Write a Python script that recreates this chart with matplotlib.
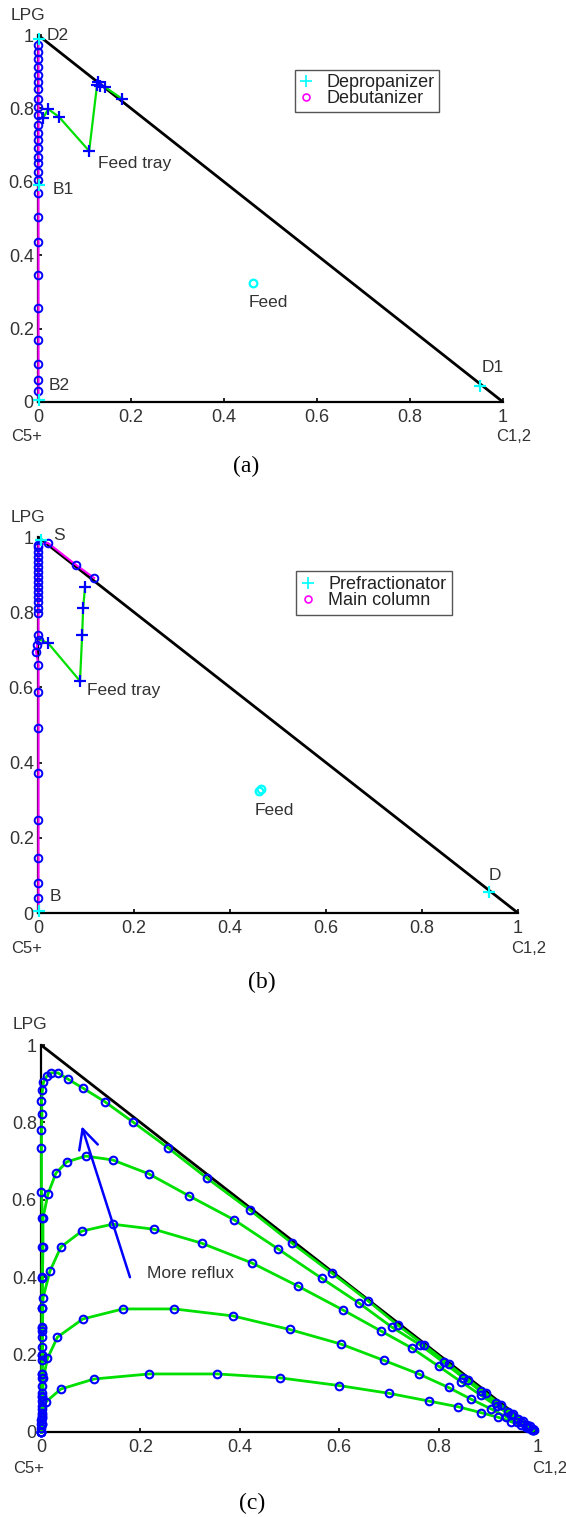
import matplotlib
matplotlib.use('Agg')
import matplotlib.pyplot as plt
from matplotlib.lines import Line2D

plt.rcParams['font.family'] = ['Liberation Sans', 'DejaVu Sans']

# ---------------- common ----------------
ticks = [0, 0.2, 0.4, 0.6, 0.8, 1]
tick_labels = ['0', '0.2', '0.4', '0.6', '0.8', '1']

# ---------------- panel (a) ----------------
a_debut_x = [0.001, 0.001, 0.001, 0.001, 0.001, 0.001, 0.001, 0.001, 0.001, 0.001,
             0.001, 0.001, 0.001, 0.001, 0.001, 0.001, 0.001, 0.001, 0.001, 0.001,
             0.001, 0.001, 0.001, 0.001, 0.001, 0.001, 0.001, 0.001, 0.002]
a_debut_y = [0.005, 0.030, 0.060, 0.104, 0.169, 0.256, 0.346, 0.436, 0.504, 0.569,
             0.605, 0.627, 0.651, 0.668, 0.692, 0.714, 0.733, 0.755, 0.782, 0.804,
             0.826, 0.853, 0.872, 0.891, 0.913, 0.935, 0.954, 0.973, 0.988]
a_deprop_x = [0.011, 0.022, 0.045, 0.110, 0.127, 0.129, 0.133, 0.144, 0.181]
a_deprop_y = [0.774, 0.798, 0.777, 0.684, 0.864, 0.872, 0.861, 0.858, 0.826]
a_prod_x = [0.951, 0.002, 0.002, 0.002]
a_prod_y = [0.044, 0.591, 0.988, 0.005]
a_prod_names = ['D1', 'B1', 'D2', 'B2']
a_prod_lab_x = [0.953, 0.032, 0.019, 0.022]
a_prod_lab_y = [0.093, 0.578, 1.000, 0.046]
a_feed = (0.462, 0.324)
a_feed_lab = (0.452, 0.272)
a_tray_lab = (0.129, 0.651)
a_legend = ['Depropanizer', 'Debutanizer']

# ---------------- panel (b) ----------------
b_main_x = [0.001, 0.001, 0.001, 0.001, 0.001, 0.001, 0.001, 0.001, 0.001, -0.004,
            -0.002, 0.002, 0.001, 0.001, 0.001, 0.001, 0.001, 0.001, 0.001, 0.001,
            0.001, 0.001, 0.001, 0.001, 0.001, 0.001, 0.001, 0.001, 0.021, 0.079, 0.117]
b_main_y = [0.005, 0.040, 0.080, 0.146, 0.247, 0.372, 0.492, 0.588, 0.660, 0.694,
            0.713, 0.726, 0.739, 0.798, 0.812, 0.826, 0.840, 0.853, 0.867, 0.880,
            0.894, 0.907, 0.920, 0.934, 0.947, 0.960, 0.973, 0.980, 0.984, 0.926, 0.891]
b_pre_x = [0.002, 0.021, 0.0875, 0.092, 0.094, 0.098]
b_pre_y = [0.728, 0.718, 0.617, 0.739, 0.811, 0.867]
b_prod_x = [0.940, 0.006, 0.002]
b_prod_y = [0.055, 0.992, 0.005]
b_prod_names = ['D', 'S', 'B']
b_prod_lab_x = [0.938, 0.031, 0.025]
b_prod_lab_y = [0.100, 1.005, 0.043]
b_feed_x = [0.460, 0.465]
b_feed_y = [0.325, 0.330]
b_feed_lab = (0.452, 0.272)
b_tray_lab = (0.102, 0.593)
b_legend = ['Prefractionator', 'Main column']

# ---------------- panel (c) ----------------
c1_x = [0.001, 0.002, 0.003, 0.010, 0.040, 0.107, 0.218, 0.354, 0.480, 0.600, 0.700,
        0.780, 0.840, 0.885, 0.920, 0.945, 0.965, 0.980, 0.990]
c1_y = [0.000, 0.020, 0.045, 0.078, 0.111, 0.137, 0.150, 0.150, 0.140, 0.120, 0.100,
        0.080, 0.065, 0.050, 0.038, 0.027, 0.018, 0.010, 0.004]
c2_x = [0.001, 0.002, 0.003, 0.005, 0.013, 0.033, 0.084, 0.165, 0.268, 0.386, 0.500,
        0.604, 0.690, 0.760, 0.820, 0.865, 0.905, 0.935, 0.958, 0.975, 0.988]
c2_y = [0.000, 0.040, 0.090, 0.140, 0.190, 0.245, 0.292, 0.318, 0.318, 0.300, 0.265,
        0.227, 0.185, 0.150, 0.115, 0.085, 0.060, 0.040, 0.025, 0.014, 0.006]
c3_x = [0.001, 0.001, 0.002, 0.002, 0.003, 0.003, 0.004, 0.018, 0.040, 0.082, 0.144,
        0.227, 0.323, 0.424, 0.517, 0.608, 0.684, 0.746, 0.800, 0.845, 0.885, 0.918,
        0.945, 0.965, 0.980, 0.990]
c3_y = [0.000, 0.030, 0.080, 0.140, 0.200, 0.260, 0.346, 0.416, 0.478, 0.519, 0.537,
        0.524, 0.488, 0.437, 0.377, 0.315, 0.261, 0.217, 0.170, 0.130, 0.095, 0.066,
        0.043, 0.026, 0.013, 0.005]
c4_x = [0.001, 0.001, 0.002, 0.002, 0.002, 0.003, 0.003, 0.003, 0.003, 0.004, 0.004,
        0.014, 0.030, 0.052, 0.090, 0.144, 0.217, 0.298, 0.389, 0.477, 0.565, 0.640,
        0.706, 0.763, 0.810, 0.850, 0.885, 0.915, 0.940, 0.960, 0.977, 0.990]
c4_y = [0.000, 0.020, 0.060, 0.100, 0.150, 0.200, 0.270, 0.320, 0.400, 0.478, 0.553,
        0.615, 0.669, 0.698, 0.713, 0.703, 0.667, 0.610, 0.548, 0.473, 0.397, 0.333,
        0.271, 0.225, 0.180, 0.140, 0.105, 0.075, 0.052, 0.033, 0.018, 0.007]
c5_x = [0.001, 0.001, 0.002, 0.002, 0.002, 0.002, 0.002, 0.002, 0.002, 0.002, 0.002,
        0.002, 0.002, 0.002, 0.002, 0.003, 0.003, 0.001, 0.001, 0.001, 0.002, 0.001,
        0.003, 0.005, 0.012, 0.020, 0.034, 0.054, 0.084, 0.129, 0.185, 0.256, 0.334,
        0.420, 0.505, 0.585, 0.658, 0.718, 0.771, 0.820, 0.860, 0.895, 0.925, 0.950,
        0.970, 0.983, 0.992]
c5_y = [0.000, 0.010, 0.020, 0.035, 0.050, 0.067, 0.093, 0.120, 0.150, 0.186, 0.220,
        0.245, 0.271, 0.320, 0.397, 0.478, 0.553, 0.620, 0.734, 0.780, 0.822, 0.855,
        0.884, 0.904, 0.920, 0.928, 0.928, 0.912, 0.889, 0.853, 0.801, 0.734, 0.656,
        0.574, 0.488, 0.411, 0.339, 0.276, 0.225, 0.175, 0.135, 0.100, 0.070, 0.047,
        0.028, 0.015, 0.006]
c_arrow_tail = (0.179, 0.400)
c_arrow_head = (0.082, 0.790)
c_arrow_lab = (0.213, 0.410)

GREEN = '#00e000'
BLUE = '#0000ff'
MAG = '#ff00ff'
CYAN = '#00ffff'
TXT = '#333333'

W, H = 566, 1517
fig = plt.figure(figsize=(W / 100, H / 100), dpi=100)


def frac(l, r, t, b):
    return [l / W, 1 - b / H, (r - l) / W, (b - t) / H]


def setup(ax):
    ax.set_xlim(0, 1)
    ax.set_ylim(0, 1)
    ax.patch.set_visible(False)
    for s in ['top', 'right']:
        ax.spines[s].set_visible(False)
    for s in ['left', 'bottom']:
        ax.spines[s].set_linewidth(1.6)
        ax.spines[s].set_color('black')
    ax.set_xticks(ticks)
    ax.set_xticklabels(tick_labels)
    ax.set_yticks(ticks)
    ax.set_yticklabels(tick_labels)
    ax.tick_params(direction='in', length=3, width=1.2, labelsize=13, colors='black',
                   labelcolor=TXT)
    ax.tick_params(axis='x', pad=5)
    ax.tick_params(axis='y', pad=3)
    ax.plot([0, 1], [1, 0], color='black', lw=2, zorder=1, solid_capstyle='butt')
    ax.text(-0.022, 1.052, 'LPG', ha='center', va='center', fontsize=12.5, color=TXT)
    ax.text(-0.024, -0.095, 'C5+', ha='center', va='center', fontsize=12, color=TXT)
    ax.text(1.023, -0.095, 'C1,2', ha='center', va='center', fontsize=12, color=TXT)


# ---------- (a) ----------
axa = fig.add_axes(frac(38, 503, 35, 402))
setup(axa)
axa.plot(a_debut_x, a_debut_y, color=MAG, lw=1.5, zorder=3, clip_on=False)
axa.plot(a_debut_x[1:-1], a_debut_y[1:-1], ls='none', marker='o', ms=5.5, mfc='none',
         mec=BLUE, mew=1.4, zorder=4, clip_on=False)
axa.plot(a_deprop_x, a_deprop_y, color=GREEN, lw=1.6, zorder=3,
         marker='+', ms=9, mec=BLUE, mew=1.6, clip_on=False)
axa.plot(a_prod_x, a_prod_y, ls='none', marker='+', ms=9, mec=CYAN, mew=1.6, zorder=5,
         clip_on=False)
for n, x, y in zip(a_prod_names, a_prod_lab_x, a_prod_lab_y):
    axa.text(x, y, n, ha='left', va='center', fontsize=12.5, color=TXT)
axa.plot([a_feed[0]], [a_feed[1]], ls='none', marker='o', ms=5.5, mfc='none', mec=CYAN,
         mew=1.6, zorder=5)
axa.text(a_feed_lab[0], a_feed_lab[1], 'Feed', ha='left', va='center', fontsize=12.5, color=TXT)
axa.text(a_tray_lab[0], a_tray_lab[1], 'Feed tray', ha='left', va='center', fontsize=12.5,
         color=TXT)
ha = [Line2D([], [], ls='none', marker='+', ms=8, mec=CYAN, mew=1.2),
      Line2D([], [], ls='none', marker='o', ms=5, mfc='none', mec=MAG, mew=1.2)]
leg = axa.legend(ha, a_legend, loc='upper left', bbox_to_anchor=(0.553, 0.905),
                 borderaxespad=0, fontsize=13, labelspacing=-0.06, handlelength=0.7,
                 handletextpad=0.8, borderpad=0.25, fancybox=False, framealpha=1,
                 edgecolor='#555555')
leg.get_frame().set_linewidth(1.0)
for t in leg.get_texts():
    t.set_color('#222222')
fig.text(246 / W, 1 - 466 / H, '(a)', ha='center', va='center', fontsize=17,
         family='Liberation Serif')

# ---------- (b) ----------
axb = fig.add_axes(frac(38, 518, 537, 913))
setup(axb)
axb.plot(b_main_x, b_main_y, color=MAG, lw=1.5, zorder=3, clip_on=False)
axb.plot(b_main_x[1:], b_main_y[1:], ls='none', marker='o', ms=5.5, mfc='none',
         mec=BLUE, mew=1.4, zorder=4, clip_on=False)
axb.plot(b_pre_x, b_pre_y, color=GREEN, lw=1.6, zorder=3, clip_on=False)
axb.plot(b_pre_x[1:], b_pre_y[1:], ls='none', marker='+', ms=9, mec=BLUE, mew=1.6,
         zorder=4)
axb.plot(b_prod_x, b_prod_y, ls='none', marker='+', ms=9, mec=CYAN, mew=1.6, zorder=5,
         clip_on=False)
for n, x, y in zip(b_prod_names, b_prod_lab_x, b_prod_lab_y):
    axb.text(x, y, n, ha='left', va='center', fontsize=12.5, color=TXT)
axb.plot(b_feed_x, b_feed_y, ls='none', marker='o', ms=5.5, mfc='none', mec=CYAN,
         mew=1.6, zorder=5)
axb.text(b_feed_lab[0], b_feed_lab[1], 'Feed', ha='left', va='center', fontsize=12.5, color=TXT)
axb.text(b_tray_lab[0], b_tray_lab[1], 'Feed tray', ha='left', va='center', fontsize=12.5,
         color=TXT)
hb = [Line2D([], [], ls='none', marker='+', ms=8, mec=CYAN, mew=1.2),
      Line2D([], [], ls='none', marker='o', ms=5, mfc='none', mec=MAG, mew=1.2)]
legb = axb.legend(hb, b_legend, loc='upper left', bbox_to_anchor=(0.5375, 0.91),
                  borderaxespad=0, fontsize=13, labelspacing=-0.06, handlelength=0.7,
                  handletextpad=0.8, borderpad=0.3, fancybox=False, framealpha=1,
                  edgecolor='#555555')
legb.get_frame().set_linewidth(1.0)
for t in legb.get_texts():
    t.set_color('#222222')
fig.text(262 / W, 1 - 982 / H, '(b)', ha='center', va='center', fontsize=17,
         family='Liberation Serif')

# ---------- (c) ----------
axc = fig.add_axes(frac(41, 538, 1045, 1432))
setup(axc)
for cx, cy in [(c1_x, c1_y), (c2_x, c2_y), (c3_x, c3_y), (c4_x, c4_y), (c5_x, c5_y)]:
    axc.plot(cx, cy, color=GREEN, lw=2, zorder=3, clip_on=False)
    axc.plot(cx, cy, ls='none', marker='o', ms=5.5, mfc='none', mec=BLUE, mew=1.5,
             zorder=4, clip_on=False)
axc.annotate('', xy=c_arrow_head, xytext=c_arrow_tail,
             arrowprops=dict(arrowstyle='->,head_length=0.7,head_width=0.35',
                             color=BLUE, lw=1.8, mutation_scale=20,
                             shrinkA=0, shrinkB=0))
axc.text(c_arrow_lab[0], c_arrow_lab[1], 'More reflux', ha='left', va='center',
         fontsize=12.5, color=TXT)
fig.text(252 / W, 1 - 1503 / H, '(c)', ha='center', va='center', fontsize=17,
         family='Liberation Serif')

fig.savefig('out.png', dpi=100)
